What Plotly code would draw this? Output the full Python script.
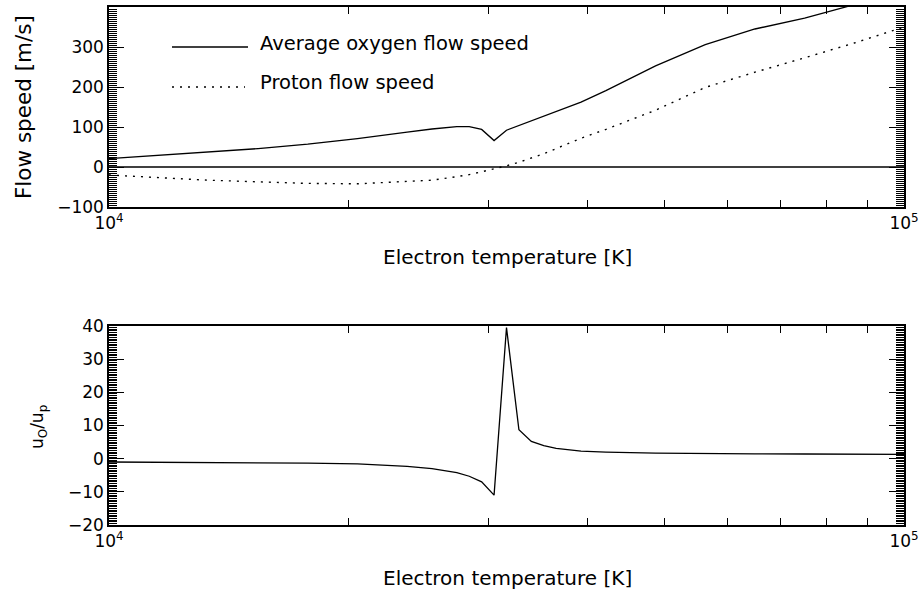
import plotly.graph_objects as go

# Electron temperature grid [K]
temperature = [10000, 11548, 13335, 15399, 17783, 20535, 23714, 25483, 27384, 28387,
               29427, 30505, 31623, 32781, 33982, 35227, 36517, 39242, 42170, 48697,
               56234, 64938, 74989, 86596, 100000]
# Average oxygen flow speed [m/s]
oxygen_speed = [21, 29, 37, 46, 57, 71, 87, 95, 101, 101,
                94, 66, 92, 104, 115, 127, 138, 162, 191, 253,
                306, 345, 372, 406, 450]
# Proton flow speed [m/s]
proton_speed = [-20, -27, -33, -37, -41, -42, -37, -33, -24, -19,
                -12, -5, 3, 12, 22, 33, 46, 72, 94, 142,
                199, 237, 273, 310, 350]
# Ratio u_O / u_p
speed_ratio = [-1.0, -1.05, -1.1, -1.2, -1.35, -1.6, -2.3, -3.0, -4.2, -5.3,
               -7.0, -11.0, 39.5, 8.7, 5.2, 3.9, 3.1, 2.3, 2.0, 1.7,
               1.5, 1.45, 1.4, 1.35, 1.3]
zero_x = [10000, 100000]
zero_y = [0, 0]

x_tickvals = [10000, 20000, 30000, 40000, 50000, 60000, 70000, 80000, 90000, 100000]
x_ticktext = ["10<sup>4</sup>", " ", " ", " ", " ", " ", " ", " ", " ", "10<sup>5</sup>"]

W, H = 924, 594
FONT = "DejaVu Sans"

def px_x(p):
    return p / W

def px_y(p):
    return 1 - p / H

def fnt(size):
    return dict(family=FONT, size=size, color="black")

fig = go.Figure()
fig.add_trace(go.Scatter(x=temperature, y=oxygen_speed, mode="lines",
                         line=dict(color="black", width=1.3), xaxis="x", yaxis="y"))
fig.add_trace(go.Scatter(x=temperature, y=proton_speed, mode="lines",
                         line=dict(color="black", width=1.4, dash="2px,6px"), xaxis="x", yaxis="y"))
fig.add_trace(go.Scatter(x=zero_x, y=zero_y, mode="lines",
                         line=dict(color="black", width=1.3), xaxis="x", yaxis="y"))
fig.add_trace(go.Scatter(x=temperature, y=speed_ratio, mode="lines",
                         line=dict(color="black", width=1.3), xaxis="x2", yaxis="y2"))

xdom = [px_x(109), px_x(904)]

def xax(anchor):
    return dict(type="log", range=[4, 5], domain=xdom, anchor=anchor,
                showgrid=False, zeroline=False,
                showline=True, linecolor="black", linewidth=1.5, mirror="allticks",
                ticks="inside", ticklen=7, tickcolor="black",
                tickvals=x_tickvals, ticktext=x_ticktext,
                automargin=False, tickfont=fnt(17))

def yax(anchor, dom, rng, major, mdt):
    return dict(anchor=anchor, domain=dom, range=rng, showgrid=False, zeroline=False,
                showline=True, linecolor="black", linewidth=1.5, mirror="allticks",
                ticks="inside", ticklen=15, tickcolor="black",
                dtick=major, automargin=False, tickfont=fnt(17),
                minor=dict(ticks="inside", dtick=mdt, ticklen=8, tickcolor="black"))

fig.update_layout(
    width=W, height=H,
    margin=dict(l=0, r=0, t=0, b=0),
    paper_bgcolor="white", plot_bgcolor="white",
    showlegend=False,
    font=fnt(17),
    xaxis=xax("y"),
    yaxis=yax("x", [px_y(207), px_y(7)], [-100, 400], 100, 5),
    xaxis2=xax("y2"),
    yaxis2=yax("x2", [px_y(525), px_y(326)], [-20, 40], 10, 0.5),
)

annots = [
    dict(text="Electron temperature [K]", x=px_x(507), y=px_y(257), font=fnt(20)),
    dict(text="Electron temperature [K]", x=px_x(507), y=px_y(578), font=fnt(20)),
    dict(text="Flow speed [m/s]", x=px_x(23), y=px_y(107), textangle=-90, font=fnt(21.5)),
    dict(text="u<sub>O</sub>/u<sub>p</sub>", x=px_x(38), y=px_y(427), textangle=-90, font=fnt(17)),
]
for a in annots:
    fig.add_annotation(xref="paper", yref="paper", showarrow=False,
                       xanchor="center", yanchor="middle", **a)

# legend
fig.add_shape(type="line", xref="paper", yref="paper", x0=px_x(172), x1=px_x(248),
              y0=px_y(47), y1=px_y(47), line=dict(color="black", width=1.3))
fig.add_shape(type="line", xref="paper", yref="paper", x0=px_x(172), x1=px_x(245),
              y0=px_y(87), y1=px_y(87), line=dict(color="black", width=1.4, dash="2px,6px"))
fig.add_annotation(xref="paper", yref="paper", showarrow=False, xanchor="left", yanchor="middle",
                   x=px_x(258), y=px_y(43), text="Average oxygen flow speed", font=fnt(19.5))
fig.add_annotation(xref="paper", yref="paper", showarrow=False, xanchor="left", yanchor="middle",
                   x=px_x(258), y=px_y(82), text="Proton flow speed", font=fnt(19.5))

fig.write_html("out.html")
